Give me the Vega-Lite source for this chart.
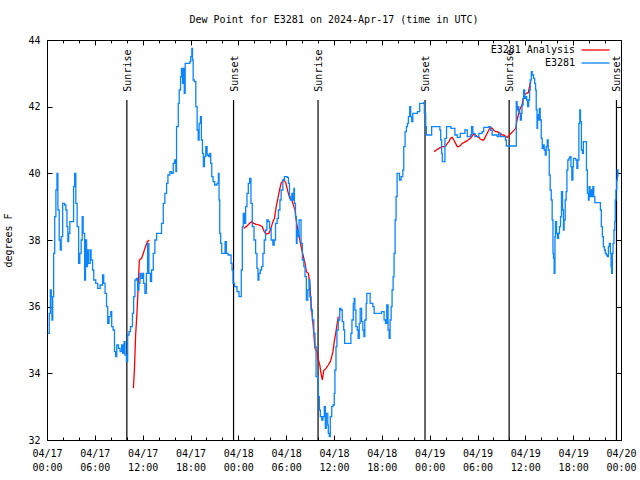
{
"$schema":"https://vega.github.io/schema/vega-lite/v6.json",
"width":574,"height":400,
"autosize":{"type":"none"},
"padding":{"left":47,"top":40,"right":19,"bottom":40},
"background":"white",
"title":{"text":"Dew Point for E3281 on 2024-Apr-17 (time in UTC)","font":"DejaVu Sans Mono","fontSize":10,"fontWeight":"normal","color":"black","anchor":"middle","frame":"group","baseline":"alphabetic","offset":2},
"config":{
 "view":{"stroke":"black","strokeWidth":1},
 "font":"DejaVu Sans Mono",
 "axis":{"grid":false,"domain":false,"tickColor":"black","tickWidth":1,"labelFont":"DejaVu Sans Mono","labelFontSize":10,"labelColor":"black","titleFont":"DejaVu Sans Mono","titleFontSize":10,"titleFontWeight":"normal","titleColor":"black"}
},
"datasets":{
"obs":[
{"t":"2024-04-17T00:05:00Z","v":35.2,"s":"E3281","g":"b"},
{"t":"2024-04-17T00:17:00Z","v":35.8,"s":"E3281","g":"b"},
{"t":"2024-04-17T00:25:00Z","v":36.5,"s":"E3281","g":"b"},
{"t":"2024-04-17T00:32:00Z","v":36.3,"s":"E3281","g":"b"},
{"t":"2024-04-17T00:37:00Z","v":35.6,"s":"E3281","g":"b"},
{"t":"2024-04-17T00:43:00Z","v":36.3,"s":"E3281","g":"b"},
{"t":"2024-04-17T00:50:00Z","v":37.6,"s":"E3281","g":"b"},
{"t":"2024-04-17T00:58:00Z","v":38.7,"s":"E3281","g":"b"},
{"t":"2024-04-17T01:07:00Z","v":39.5,"s":"E3281","g":"b"},
{"t":"2024-04-17T01:15:00Z","v":40.0,"s":"E3281","g":"b"},
{"t":"2024-04-17T01:22:00Z","v":38.9,"s":"E3281","g":"b"},
{"t":"2024-04-17T01:32:00Z","v":38.0,"s":"E3281","g":"b"},
{"t":"2024-04-17T01:40:00Z","v":37.7,"s":"E3281","g":"b"},
{"t":"2024-04-17T01:47:00Z","v":38.1,"s":"E3281","g":"b"},
{"t":"2024-04-17T01:58:00Z","v":39.1,"s":"E3281","g":"b"},
{"t":"2024-04-17T02:13:00Z","v":39.05,"s":"E3281","g":"b"},
{"t":"2024-04-17T02:22:00Z","v":38.9,"s":"E3281","g":"b"},
{"t":"2024-04-17T02:30:00Z","v":38.4,"s":"E3281","g":"b"},
{"t":"2024-04-17T02:37:00Z","v":37.95,"s":"E3281","g":"b"},
{"t":"2024-04-17T02:43:00Z","v":38.2,"s":"E3281","g":"b"},
{"t":"2024-04-17T02:52:00Z","v":38.55,"s":"E3281","g":"b"},
{"t":"2024-04-17T03:07:00Z","v":38.55,"s":"E3281","g":"b"},
{"t":"2024-04-17T03:20:00Z","v":39.6,"s":"E3281","g":"b"},
{"t":"2024-04-17T03:28:00Z","v":40.0,"s":"E3281","g":"b"},
{"t":"2024-04-17T03:37:00Z","v":39.1,"s":"E3281","g":"b"},
{"t":"2024-04-17T03:47:00Z","v":38.4,"s":"E3281","g":"b"},
{"t":"2024-04-17T03:58:00Z","v":37.3,"s":"E3281","g":"b"},
{"t":"2024-04-17T04:07:00Z","v":37.6,"s":"E3281","g":"b"},
{"t":"2024-04-17T04:17:00Z","v":38.0,"s":"E3281","g":"b"},
{"t":"2024-04-17T04:25:00Z","v":38.7,"s":"E3281","g":"b"},
{"t":"2024-04-17T04:32:00Z","v":38.2,"s":"E3281","g":"b"},
{"t":"2024-04-17T04:43:00Z","v":36.8,"s":"E3281","g":"b"},
{"t":"2024-04-17T04:50:00Z","v":38.0,"s":"E3281","g":"b"},
{"t":"2024-04-17T04:58:00Z","v":37.2,"s":"E3281","g":"b"},
{"t":"2024-04-17T05:05:00Z","v":37.7,"s":"E3281","g":"b"},
{"t":"2024-04-17T05:12:00Z","v":37.3,"s":"E3281","g":"b"},
{"t":"2024-04-17T05:25:00Z","v":37.7,"s":"E3281","g":"b"},
{"t":"2024-04-17T05:32:00Z","v":37.4,"s":"E3281","g":"b"},
{"t":"2024-04-17T05:43:00Z","v":37.1,"s":"E3281","g":"b"},
{"t":"2024-04-17T05:52:00Z","v":36.8,"s":"E3281","g":"b"},
{"t":"2024-04-17T06:07:00Z","v":36.7,"s":"E3281","g":"b"},
{"t":"2024-04-17T06:22:00Z","v":36.55,"s":"E3281","g":"b"},
{"t":"2024-04-17T06:40:00Z","v":36.65,"s":"E3281","g":"b"},
{"t":"2024-04-17T06:58:00Z","v":36.95,"s":"E3281","g":"b"},
{"t":"2024-04-17T07:07:00Z","v":36.7,"s":"E3281","g":"b"},
{"t":"2024-04-17T07:17:00Z","v":36.4,"s":"E3281","g":"b"},
{"t":"2024-04-17T07:28:00Z","v":36.0,"s":"E3281","g":"b"},
{"t":"2024-04-17T07:37:00Z","v":35.5,"s":"E3281","g":"b"},
{"t":"2024-04-17T07:47:00Z","v":35.7,"s":"E3281","g":"b"},
{"t":"2024-04-17T08:00:00Z","v":35.85,"s":"E3281","g":"b"},
{"t":"2024-04-17T08:07:00Z","v":35.4,"s":"E3281","g":"b"},
{"t":"2024-04-17T08:17:00Z","v":35.3,"s":"E3281","g":"b"},
{"t":"2024-04-17T08:28:00Z","v":34.65,"s":"E3281","g":"b"},
{"t":"2024-04-17T08:37:00Z","v":34.5,"s":"E3281","g":"b"},
{"t":"2024-04-17T08:45:00Z","v":34.85,"s":"E3281","g":"b"},
{"t":"2024-04-17T08:58:00Z","v":34.75,"s":"E3281","g":"b"},
{"t":"2024-04-17T09:10:00Z","v":34.65,"s":"E3281","g":"b"},
{"t":"2024-04-17T09:22:00Z","v":34.85,"s":"E3281","g":"b"},
{"t":"2024-04-17T09:30:00Z","v":34.6,"s":"E3281","g":"b"},
{"t":"2024-04-17T09:40:00Z","v":34.95,"s":"E3281","g":"b"},
{"t":"2024-04-17T09:47:00Z","v":34.55,"s":"E3281","g":"b"},
{"t":"2024-04-17T09:58:00Z","v":34.35,"s":"E3281","g":"b"},
{"t":"2024-04-17T10:07:00Z","v":35.15,"s":"E3281","g":"b"},
{"t":"2024-04-17T10:17:00Z","v":35.25,"s":"E3281","g":"b"},
{"t":"2024-04-17T10:28:00Z","v":35.4,"s":"E3281","g":"b"},
{"t":"2024-04-17T10:43:00Z","v":35.8,"s":"E3281","g":"b"},
{"t":"2024-04-17T10:52:00Z","v":36.3,"s":"E3281","g":"b"},
{"t":"2024-04-17T11:02:00Z","v":36.8,"s":"E3281","g":"b"},
{"t":"2024-04-17T11:13:00Z","v":36.85,"s":"E3281","g":"b"},
{"t":"2024-04-17T11:22:00Z","v":36.5,"s":"E3281","g":"b"},
{"t":"2024-04-17T11:32:00Z","v":36.7,"s":"E3281","g":"b"},
{"t":"2024-04-17T11:40:00Z","v":37.0,"s":"E3281","g":"b"},
{"t":"2024-04-17T11:47:00Z","v":36.85,"s":"E3281","g":"b"},
{"t":"2024-04-17T11:58:00Z","v":37.0,"s":"E3281","g":"b"},
{"t":"2024-04-17T12:07:00Z","v":36.7,"s":"E3281","g":"b"},
{"t":"2024-04-17T12:17:00Z","v":36.4,"s":"E3281","g":"b"},
{"t":"2024-04-17T12:28:00Z","v":37.0,"s":"E3281","g":"b"},
{"t":"2024-04-17T12:37:00Z","v":37.9,"s":"E3281","g":"b"},
{"t":"2024-04-17T12:47:00Z","v":37.0,"s":"E3281","g":"b"},
{"t":"2024-04-17T12:58:00Z","v":36.75,"s":"E3281","g":"b"},
{"t":"2024-04-17T13:07:00Z","v":37.1,"s":"E3281","g":"b"},
{"t":"2024-04-17T13:20:00Z","v":37.6,"s":"E3281","g":"b"},
{"t":"2024-04-17T13:32:00Z","v":38.0,"s":"E3281","g":"b"},
{"t":"2024-04-17T13:45:00Z","v":38.2,"s":"E3281","g":"b"},
{"t":"2024-04-17T14:10:00Z","v":38.2,"s":"E3281","g":"b"},
{"t":"2024-04-17T14:22:00Z","v":38.5,"s":"E3281","g":"b"},
{"t":"2024-04-17T14:35:00Z","v":39.1,"s":"E3281","g":"b"},
{"t":"2024-04-17T14:47:00Z","v":39.4,"s":"E3281","g":"b"},
{"t":"2024-04-17T15:00:00Z","v":39.7,"s":"E3281","g":"b"},
{"t":"2024-04-17T15:10:00Z","v":39.95,"s":"E3281","g":"b"},
{"t":"2024-04-17T15:25:00Z","v":40.05,"s":"E3281","g":"b"},
{"t":"2024-04-17T15:37:00Z","v":40.0,"s":"E3281","g":"b"},
{"t":"2024-04-17T15:50:00Z","v":40.3,"s":"E3281","g":"b"},
{"t":"2024-04-17T16:00:00Z","v":40.4,"s":"E3281","g":"b"},
{"t":"2024-04-17T16:10:00Z","v":40.05,"s":"E3281","g":"b"},
{"t":"2024-04-17T16:15:00Z","v":41.4,"s":"E3281","g":"b"},
{"t":"2024-04-17T16:28:00Z","v":42.1,"s":"E3281","g":"b"},
{"t":"2024-04-17T16:35:00Z","v":42.5,"s":"E3281","g":"b"},
{"t":"2024-04-17T16:45:00Z","v":42.9,"s":"E3281","g":"b"},
{"t":"2024-04-17T16:52:00Z","v":43.15,"s":"E3281","g":"b"},
{"t":"2024-04-17T17:00:00Z","v":42.7,"s":"E3281","g":"b"},
{"t":"2024-04-17T17:05:00Z","v":43.15,"s":"E3281","g":"b"},
{"t":"2024-04-17T17:13:00Z","v":42.4,"s":"E3281","g":"b"},
{"t":"2024-04-17T17:20:00Z","v":43.3,"s":"E3281","g":"b"},
{"t":"2024-04-17T17:55:00Z","v":43.35,"s":"E3281","g":"b"},
{"t":"2024-04-17T18:02:00Z","v":43.5,"s":"E3281","g":"b"},
{"t":"2024-04-17T18:10:00Z","v":43.75,"s":"E3281","g":"b"},
{"t":"2024-04-17T18:15:00Z","v":43.4,"s":"E3281","g":"b"},
{"t":"2024-04-17T18:20:00Z","v":42.8,"s":"E3281","g":"b"},
{"t":"2024-04-17T18:30:00Z","v":42.75,"s":"E3281","g":"b"},
{"t":"2024-04-17T18:40:00Z","v":42.0,"s":"E3281","g":"b"},
{"t":"2024-04-17T18:50:00Z","v":41.3,"s":"E3281","g":"b"},
{"t":"2024-04-17T18:58:00Z","v":41.0,"s":"E3281","g":"b"},
{"t":"2024-04-17T19:05:00Z","v":41.5,"s":"E3281","g":"b"},
{"t":"2024-04-17T19:15:00Z","v":41.7,"s":"E3281","g":"b"},
{"t":"2024-04-17T19:22:00Z","v":41.0,"s":"E3281","g":"b"},
{"t":"2024-04-17T19:30:00Z","v":40.6,"s":"E3281","g":"b"},
{"t":"2024-04-17T19:37:00Z","v":40.2,"s":"E3281","g":"b"},
{"t":"2024-04-17T19:45:00Z","v":40.5,"s":"E3281","g":"b"},
{"t":"2024-04-17T19:55:00Z","v":40.8,"s":"E3281","g":"b"},
{"t":"2024-04-17T20:05:00Z","v":40.55,"s":"E3281","g":"b"},
{"t":"2024-04-17T20:15:00Z","v":40.5,"s":"E3281","g":"b"},
{"t":"2024-04-17T20:25:00Z","v":40.6,"s":"E3281","g":"b"},
{"t":"2024-04-17T20:32:00Z","v":40.3,"s":"E3281","g":"b"},
{"t":"2024-04-17T20:40:00Z","v":39.9,"s":"E3281","g":"b"},
{"t":"2024-04-17T20:50:00Z","v":39.75,"s":"E3281","g":"b"},
{"t":"2024-04-17T21:02:00Z","v":39.65,"s":"E3281","g":"b"},
{"t":"2024-04-17T21:20:00Z","v":39.7,"s":"E3281","g":"b"},
{"t":"2024-04-17T21:30:00Z","v":40.0,"s":"E3281","g":"b"},
{"t":"2024-04-17T21:35:00Z","v":39.2,"s":"E3281","g":"b"},
{"t":"2024-04-17T21:40:00Z","v":38.2,"s":"E3281","g":"b"},
{"t":"2024-04-17T21:47:00Z","v":37.9,"s":"E3281","g":"b"},
{"t":"2024-04-17T21:55:00Z","v":37.6,"s":"E3281","g":"b"},
{"t":"2024-04-17T22:10:00Z","v":37.6,"s":"E3281","g":"b"},
{"t":"2024-04-17T22:20:00Z","v":37.95,"s":"E3281","g":"b"},
{"t":"2024-04-17T22:30:00Z","v":37.6,"s":"E3281","g":"b"},
{"t":"2024-04-17T22:43:00Z","v":37.55,"s":"E3281","g":"b"},
{"t":"2024-04-17T22:55:00Z","v":37.55,"s":"E3281","g":"b"},
{"t":"2024-04-17T23:05:00Z","v":37.3,"s":"E3281","g":"b"},
{"t":"2024-04-17T23:13:00Z","v":37.1,"s":"E3281","g":"b"},
{"t":"2024-04-17T23:20:00Z","v":36.7,"s":"E3281","g":"b"},
{"t":"2024-04-17T23:32:00Z","v":36.6,"s":"E3281","g":"b"},
{"t":"2024-04-17T23:50:00Z","v":36.45,"s":"E3281","g":"b"},
{"t":"2024-04-18T00:05:00Z","v":36.3,"s":"E3281","g":"b"},
{"t":"2024-04-18T00:15:00Z","v":36.3,"s":"E3281","g":"b"},
{"t":"2024-04-18T00:22:00Z","v":37.1,"s":"E3281","g":"b"},
{"t":"2024-04-18T00:30:00Z","v":38.4,"s":"E3281","g":"b"},
{"t":"2024-04-18T00:37:00Z","v":38.8,"s":"E3281","g":"b"},
{"t":"2024-04-18T00:47:00Z","v":38.5,"s":"E3281","g":"b"},
{"t":"2024-04-18T00:55:00Z","v":39.0,"s":"E3281","g":"b"},
{"t":"2024-04-18T01:05:00Z","v":39.4,"s":"E3281","g":"b"},
{"t":"2024-04-18T01:15:00Z","v":39.7,"s":"E3281","g":"b"},
{"t":"2024-04-18T01:25:00Z","v":39.85,"s":"E3281","g":"b"},
{"t":"2024-04-18T01:35:00Z","v":39.1,"s":"E3281","g":"b"},
{"t":"2024-04-18T01:45:00Z","v":38.4,"s":"E3281","g":"b"},
{"t":"2024-04-18T01:58:00Z","v":38.0,"s":"E3281","g":"b"},
{"t":"2024-04-18T02:10:00Z","v":37.6,"s":"E3281","g":"b"},
{"t":"2024-04-18T02:20:00Z","v":37.15,"s":"E3281","g":"b"},
{"t":"2024-04-18T02:28:00Z","v":36.8,"s":"E3281","g":"b"},
{"t":"2024-04-18T02:35:00Z","v":37.0,"s":"E3281","g":"b"},
{"t":"2024-04-18T02:45:00Z","v":37.1,"s":"E3281","g":"b"},
{"t":"2024-04-18T02:55:00Z","v":37.2,"s":"E3281","g":"b"},
{"t":"2024-04-18T03:05:00Z","v":37.6,"s":"E3281","g":"b"},
{"t":"2024-04-18T03:15:00Z","v":38.0,"s":"E3281","g":"b"},
{"t":"2024-04-18T03:25:00Z","v":38.3,"s":"E3281","g":"b"},
{"t":"2024-04-18T03:35:00Z","v":38.6,"s":"E3281","g":"b"},
{"t":"2024-04-18T03:45:00Z","v":38.55,"s":"E3281","g":"b"},
{"t":"2024-04-18T03:55:00Z","v":38.35,"s":"E3281","g":"b"},
{"t":"2024-04-18T04:07:00Z","v":38.0,"s":"E3281","g":"b"},
{"t":"2024-04-18T04:20:00Z","v":37.85,"s":"E3281","g":"b"},
{"t":"2024-04-18T04:30:00Z","v":38.0,"s":"E3281","g":"b"},
{"t":"2024-04-18T04:40:00Z","v":38.5,"s":"E3281","g":"b"},
{"t":"2024-04-18T04:52:00Z","v":38.65,"s":"E3281","g":"b"},
{"t":"2024-04-18T05:02:00Z","v":38.9,"s":"E3281","g":"b"},
{"t":"2024-04-18T05:13:00Z","v":39.2,"s":"E3281","g":"b"},
{"t":"2024-04-18T05:22:00Z","v":39.5,"s":"E3281","g":"b"},
{"t":"2024-04-18T05:35:00Z","v":39.8,"s":"E3281","g":"b"},
{"t":"2024-04-18T05:47:00Z","v":39.9,"s":"E3281","g":"b"},
{"t":"2024-04-18T06:07:00Z","v":39.88,"s":"E3281","g":"b"},
{"t":"2024-04-18T06:17:00Z","v":39.7,"s":"E3281","g":"b"},
{"t":"2024-04-18T06:25:00Z","v":39.3,"s":"E3281","g":"b"},
{"t":"2024-04-18T06:32:00Z","v":39.2,"s":"E3281","g":"b"},
{"t":"2024-04-18T06:43:00Z","v":39.4,"s":"E3281","g":"b"},
{"t":"2024-04-18T06:50:00Z","v":39.2,"s":"E3281","g":"b"},
{"t":"2024-04-18T06:58:00Z","v":39.55,"s":"E3281","g":"b"},
{"t":"2024-04-18T07:02:00Z","v":39.1,"s":"E3281","g":"b"},
{"t":"2024-04-18T07:10:00Z","v":38.7,"s":"E3281","g":"b"},
{"t":"2024-04-18T07:17:00Z","v":37.9,"s":"E3281","g":"b"},
{"t":"2024-04-18T07:22:00Z","v":38.3,"s":"E3281","g":"b"},
{"t":"2024-04-18T07:30:00Z","v":38.1,"s":"E3281","g":"b"},
{"t":"2024-04-18T07:37:00Z","v":38.6,"s":"E3281","g":"b"},
{"t":"2024-04-18T07:47:00Z","v":38.6,"s":"E3281","g":"b"},
{"t":"2024-04-18T07:52:00Z","v":37.9,"s":"E3281","g":"b"},
{"t":"2024-04-18T08:02:00Z","v":37.4,"s":"E3281","g":"b"},
{"t":"2024-04-18T08:13:00Z","v":37.2,"s":"E3281","g":"b"},
{"t":"2024-04-18T08:22:00Z","v":36.9,"s":"E3281","g":"b"},
{"t":"2024-04-18T08:32:00Z","v":36.2,"s":"E3281","g":"b"},
{"t":"2024-04-18T08:43:00Z","v":36.5,"s":"E3281","g":"b"},
{"t":"2024-04-18T08:52:00Z","v":36.8,"s":"E3281","g":"b"},
{"t":"2024-04-18T08:58:00Z","v":36.3,"s":"E3281","g":"b"},
{"t":"2024-04-18T09:07:00Z","v":35.9,"s":"E3281","g":"b"},
{"t":"2024-04-18T09:17:00Z","v":35.6,"s":"E3281","g":"b"},
{"t":"2024-04-18T09:28:00Z","v":35.2,"s":"E3281","g":"b"},
{"t":"2024-04-18T09:37:00Z","v":34.8,"s":"E3281","g":"b"},
{"t":"2024-04-18T09:45:00Z","v":33.9,"s":"E3281","g":"b"},
{"t":"2024-04-18T09:58:00Z","v":33.9,"s":"E3281","g":"b"},
{"t":"2024-04-18T10:02:00Z","v":33.3,"s":"E3281","g":"b"},
{"t":"2024-04-18T10:10:00Z","v":32.9,"s":"E3281","g":"b"},
{"t":"2024-04-18T10:17:00Z","v":32.7,"s":"E3281","g":"b"},
{"t":"2024-04-18T10:28:00Z","v":32.6,"s":"E3281","g":"b"},
{"t":"2024-04-18T10:37:00Z","v":32.7,"s":"E3281","g":"b"},
{"t":"2024-04-18T10:47:00Z","v":33.0,"s":"E3281","g":"b"},
{"t":"2024-04-18T10:55:00Z","v":32.35,"s":"E3281","g":"b"},
{"t":"2024-04-18T11:02:00Z","v":32.8,"s":"E3281","g":"b"},
{"t":"2024-04-18T11:13:00Z","v":32.45,"s":"E3281","g":"b"},
{"t":"2024-04-18T11:17:00Z","v":32.2,"s":"E3281","g":"b"},
{"t":"2024-04-18T11:25:00Z","v":32.1,"s":"E3281","g":"b"},
{"t":"2024-04-18T11:32:00Z","v":32.7,"s":"E3281","g":"b"},
{"t":"2024-04-18T11:43:00Z","v":33.0,"s":"E3281","g":"b"},
{"t":"2024-04-18T11:52:00Z","v":33.05,"s":"E3281","g":"b"},
{"t":"2024-04-18T12:02:00Z","v":33.4,"s":"E3281","g":"b"},
{"t":"2024-04-18T12:07:00Z","v":34.1,"s":"E3281","g":"b"},
{"t":"2024-04-18T12:15:00Z","v":34.8,"s":"E3281","g":"b"},
{"t":"2024-04-18T12:22:00Z","v":35.3,"s":"E3281","g":"b"},
{"t":"2024-04-18T12:32:00Z","v":35.6,"s":"E3281","g":"b"},
{"t":"2024-04-18T12:43:00Z","v":35.95,"s":"E3281","g":"b"},
{"t":"2024-04-18T12:52:00Z","v":35.9,"s":"E3281","g":"b"},
{"t":"2024-04-18T13:02:00Z","v":35.55,"s":"E3281","g":"b"},
{"t":"2024-04-18T13:13:00Z","v":35.3,"s":"E3281","g":"b"},
{"t":"2024-04-18T13:20:00Z","v":34.9,"s":"E3281","g":"b"},
{"t":"2024-04-18T14:02:00Z","v":34.9,"s":"E3281","g":"b"},
{"t":"2024-04-18T14:07:00Z","v":35.2,"s":"E3281","g":"b"},
{"t":"2024-04-18T14:15:00Z","v":35.6,"s":"E3281","g":"b"},
{"t":"2024-04-18T14:25:00Z","v":36.1,"s":"E3281","g":"b"},
{"t":"2024-04-18T14:32:00Z","v":36.25,"s":"E3281","g":"b"},
{"t":"2024-04-18T14:37:00Z","v":35.9,"s":"E3281","g":"b"},
{"t":"2024-04-18T14:45:00Z","v":35.4,"s":"E3281","g":"b"},
{"t":"2024-04-18T14:55:00Z","v":35.3,"s":"E3281","g":"b"},
{"t":"2024-04-18T15:02:00Z","v":35.05,"s":"E3281","g":"b"},
{"t":"2024-04-18T15:10:00Z","v":35.5,"s":"E3281","g":"b"},
{"t":"2024-04-18T15:17:00Z","v":35.95,"s":"E3281","g":"b"},
{"t":"2024-04-18T15:28:00Z","v":35.55,"s":"E3281","g":"b"},
{"t":"2024-04-18T15:37:00Z","v":35.3,"s":"E3281","g":"b"},
{"t":"2024-04-18T15:45:00Z","v":35.1,"s":"E3281","g":"b"},
{"t":"2024-04-18T15:52:00Z","v":35.6,"s":"E3281","g":"b"},
{"t":"2024-04-18T16:02:00Z","v":36.1,"s":"E3281","g":"b"},
{"t":"2024-04-18T16:07:00Z","v":36.4,"s":"E3281","g":"b"},
{"t":"2024-04-18T16:22:00Z","v":36.4,"s":"E3281","g":"b"},
{"t":"2024-04-18T16:32:00Z","v":36.1,"s":"E3281","g":"b"},
{"t":"2024-04-18T16:52:00Z","v":36.0,"s":"E3281","g":"b"},
{"t":"2024-04-18T17:02:00Z","v":35.8,"s":"E3281","g":"b"},
{"t":"2024-04-18T17:58:00Z","v":35.85,"s":"E3281","g":"b"},
{"t":"2024-04-18T18:17:00Z","v":35.6,"s":"E3281","g":"b"},
{"t":"2024-04-18T18:28:00Z","v":35.5,"s":"E3281","g":"b"},
{"t":"2024-04-18T18:37:00Z","v":36.05,"s":"E3281","g":"b"},
{"t":"2024-04-18T18:47:00Z","v":35.3,"s":"E3281","g":"b"},
{"t":"2024-04-18T18:55:00Z","v":35.05,"s":"E3281","g":"b"},
{"t":"2024-04-18T19:02:00Z","v":35.6,"s":"E3281","g":"b"},
{"t":"2024-04-18T19:10:00Z","v":36.0,"s":"E3281","g":"b"},
{"t":"2024-04-18T19:17:00Z","v":36.5,"s":"E3281","g":"b"},
{"t":"2024-04-18T19:25:00Z","v":36.9,"s":"E3281","g":"b"},
{"t":"2024-04-18T19:32:00Z","v":37.6,"s":"E3281","g":"b"},
{"t":"2024-04-18T19:40:00Z","v":38.6,"s":"E3281","g":"b"},
{"t":"2024-04-18T19:47:00Z","v":39.3,"s":"E3281","g":"b"},
{"t":"2024-04-18T19:55:00Z","v":40.0,"s":"E3281","g":"b"},
{"t":"2024-04-18T20:13:00Z","v":39.8,"s":"E3281","g":"b"},
{"t":"2024-04-18T20:25:00Z","v":39.9,"s":"E3281","g":"b"},
{"t":"2024-04-18T20:38:00Z","v":40.1,"s":"E3281","g":"b"},
{"t":"2024-04-18T20:45:00Z","v":40.8,"s":"E3281","g":"b"},
{"t":"2024-04-18T20:55:00Z","v":41.25,"s":"E3281","g":"b"},
{"t":"2024-04-18T21:05:00Z","v":41.4,"s":"E3281","g":"b"},
{"t":"2024-04-18T21:13:00Z","v":41.5,"s":"E3281","g":"b"},
{"t":"2024-04-18T21:20:00Z","v":41.7,"s":"E3281","g":"b"},
{"t":"2024-04-18T21:30:00Z","v":42.0,"s":"E3281","g":"b"},
{"t":"2024-04-18T21:37:00Z","v":41.7,"s":"E3281","g":"b"},
{"t":"2024-04-18T21:45:00Z","v":41.55,"s":"E3281","g":"b"},
{"t":"2024-04-18T21:53:00Z","v":41.8,"s":"E3281","g":"b"},
{"t":"2024-04-18T22:10:00Z","v":41.8,"s":"E3281","g":"b"},
{"t":"2024-04-18T22:28:00Z","v":41.85,"s":"E3281","g":"b"},
{"t":"2024-04-18T22:45:00Z","v":42.1,"s":"E3281","g":"b"},
{"t":"2024-04-18T23:15:00Z","v":42.12,"s":"E3281","g":"b"},
{"t":"2024-04-18T23:20:00Z","v":41.8,"s":"E3281","g":"b"},
{"t":"2024-04-18T23:30:00Z","v":41.4,"s":"E3281","g":"b"},
{"t":"2024-04-18T23:35:00Z","v":41.15,"s":"E3281","g":"b"},
{"t":"2024-04-19T00:07:00Z","v":41.15,"s":"E3281","g":"b"},
{"t":"2024-04-19T00:15:00Z","v":41.4,"s":"E3281","g":"b"},
{"t":"2024-04-19T01:17:00Z","v":41.3,"s":"E3281","g":"b"},
{"t":"2024-04-19T01:23:00Z","v":41.0,"s":"E3281","g":"b"},
{"t":"2024-04-19T01:30:00Z","v":40.6,"s":"E3281","g":"b"},
{"t":"2024-04-19T01:35:00Z","v":40.35,"s":"E3281","g":"b"},
{"t":"2024-04-19T01:47:00Z","v":40.35,"s":"E3281","g":"b"},
{"t":"2024-04-19T01:55:00Z","v":41.05,"s":"E3281","g":"b"},
{"t":"2024-04-19T02:07:00Z","v":41.4,"s":"E3281","g":"b"},
{"t":"2024-04-19T02:40:00Z","v":41.35,"s":"E3281","g":"b"},
{"t":"2024-04-19T03:10:00Z","v":41.15,"s":"E3281","g":"b"},
{"t":"2024-04-19T03:28:00Z","v":41.08,"s":"E3281","g":"b"},
{"t":"2024-04-19T03:45:00Z","v":41.08,"s":"E3281","g":"b"},
{"t":"2024-04-19T03:50:00Z","v":41.2,"s":"E3281","g":"b"},
{"t":"2024-04-19T04:25:00Z","v":41.3,"s":"E3281","g":"b"},
{"t":"2024-04-19T04:35:00Z","v":41.3,"s":"E3281","g":"b"},
{"t":"2024-04-19T04:43:00Z","v":41.1,"s":"E3281","g":"b"},
{"t":"2024-04-19T05:07:00Z","v":41.15,"s":"E3281","g":"b"},
{"t":"2024-04-19T05:15:00Z","v":41.4,"s":"E3281","g":"b"},
{"t":"2024-04-19T05:25:00Z","v":41.2,"s":"E3281","g":"b"},
{"t":"2024-04-19T05:40:00Z","v":41.1,"s":"E3281","g":"b"},
{"t":"2024-04-19T06:05:00Z","v":41.1,"s":"E3281","g":"b"},
{"t":"2024-04-19T06:10:00Z","v":41.2,"s":"E3281","g":"b"},
{"t":"2024-04-19T06:35:00Z","v":41.25,"s":"E3281","g":"b"},
{"t":"2024-04-19T06:47:00Z","v":41.38,"s":"E3281","g":"b"},
{"t":"2024-04-19T07:25:00Z","v":41.4,"s":"E3281","g":"b"},
{"t":"2024-04-19T07:37:00Z","v":41.3,"s":"E3281","g":"b"},
{"t":"2024-04-19T07:50:00Z","v":41.15,"s":"E3281","g":"b"},
{"t":"2024-04-19T08:28:00Z","v":41.1,"s":"E3281","g":"b"},
{"t":"2024-04-19T08:40:00Z","v":41.2,"s":"E3281","g":"b"},
{"t":"2024-04-19T08:52:00Z","v":41.1,"s":"E3281","g":"b"},
{"t":"2024-04-19T09:17:00Z","v":41.1,"s":"E3281","g":"b"},
{"t":"2024-04-19T09:30:00Z","v":41.0,"s":"E3281","g":"b"},
{"t":"2024-04-19T09:37:00Z","v":40.82,"s":"E3281","g":"b"},
{"t":"2024-04-19T10:47:00Z","v":40.82,"s":"E3281","g":"b"},
{"t":"2024-04-19T10:52:00Z","v":42.15,"s":"E3281","g":"b"},
{"t":"2024-04-19T10:58:00Z","v":41.9,"s":"E3281","g":"b"},
{"t":"2024-04-19T11:05:00Z","v":42.0,"s":"E3281","g":"b"},
{"t":"2024-04-19T11:10:00Z","v":41.85,"s":"E3281","g":"b"},
{"t":"2024-04-19T11:17:00Z","v":41.8,"s":"E3281","g":"b"},
{"t":"2024-04-19T11:22:00Z","v":41.6,"s":"E3281","g":"b"},
{"t":"2024-04-19T11:30:00Z","v":41.8,"s":"E3281","g":"b"},
{"t":"2024-04-19T11:35:00Z","v":42.05,"s":"E3281","g":"b"},
{"t":"2024-04-19T11:43:00Z","v":42.25,"s":"E3281","g":"b"},
{"t":"2024-04-19T11:47:00Z","v":42.5,"s":"E3281","g":"b"},
{"t":"2024-04-19T11:55:00Z","v":42.25,"s":"E3281","g":"b"},
{"t":"2024-04-19T12:02:00Z","v":42.3,"s":"E3281","g":"b"},
{"t":"2024-04-19T12:10:00Z","v":42.2,"s":"E3281","g":"b"},
{"t":"2024-04-19T12:17:00Z","v":42.0,"s":"E3281","g":"b"},
{"t":"2024-04-19T12:25:00Z","v":42.2,"s":"E3281","g":"b"},
{"t":"2024-04-19T12:32:00Z","v":42.5,"s":"E3281","g":"b"},
{"t":"2024-04-19T12:37:00Z","v":42.8,"s":"E3281","g":"b"},
{"t":"2024-04-19T12:45:00Z","v":43.05,"s":"E3281","g":"b"},
{"t":"2024-04-19T12:52:00Z","v":42.95,"s":"E3281","g":"b"},
{"t":"2024-04-19T13:02:00Z","v":42.85,"s":"E3281","g":"b"},
{"t":"2024-04-19T13:10:00Z","v":42.7,"s":"E3281","g":"b"},
{"t":"2024-04-19T13:17:00Z","v":42.5,"s":"E3281","g":"b"},
{"t":"2024-04-19T13:22:00Z","v":41.9,"s":"E3281","g":"b"},
{"t":"2024-04-19T13:28:00Z","v":41.35,"s":"E3281","g":"b"},
{"t":"2024-04-19T13:32:00Z","v":41.75,"s":"E3281","g":"b"},
{"t":"2024-04-19T13:37:00Z","v":41.6,"s":"E3281","g":"b"},
{"t":"2024-04-19T13:45:00Z","v":41.95,"s":"E3281","g":"b"},
{"t":"2024-04-19T13:52:00Z","v":41.6,"s":"E3281","g":"b"},
{"t":"2024-04-19T14:00:00Z","v":41.05,"s":"E3281","g":"b"},
{"t":"2024-04-19T14:07:00Z","v":40.75,"s":"E3281","g":"b"},
{"t":"2024-04-19T14:15:00Z","v":40.85,"s":"E3281","g":"b"},
{"t":"2024-04-19T14:22:00Z","v":40.7,"s":"E3281","g":"b"},
{"t":"2024-04-19T14:30:00Z","v":40.55,"s":"E3281","g":"b"},
{"t":"2024-04-19T14:37:00Z","v":40.8,"s":"E3281","g":"b"},
{"t":"2024-04-19T14:45:00Z","v":41.0,"s":"E3281","g":"b"},
{"t":"2024-04-19T14:52:00Z","v":40.7,"s":"E3281","g":"b"},
{"t":"2024-04-19T15:00:00Z","v":39.95,"s":"E3281","g":"b"},
{"t":"2024-04-19T15:07:00Z","v":39.5,"s":"E3281","g":"b"},
{"t":"2024-04-19T15:15:00Z","v":39.2,"s":"E3281","g":"b"},
{"t":"2024-04-19T15:22:00Z","v":38.6,"s":"E3281","g":"b"},
{"t":"2024-04-19T15:28:00Z","v":37.6,"s":"E3281","g":"b"},
{"t":"2024-04-19T15:32:00Z","v":37.45,"s":"E3281","g":"b"},
{"t":"2024-04-19T15:37:00Z","v":37.0,"s":"E3281","g":"b"},
{"t":"2024-04-19T15:43:00Z","v":38.1,"s":"E3281","g":"b"},
{"t":"2024-04-19T15:47:00Z","v":38.55,"s":"E3281","g":"b"},
{"t":"2024-04-19T15:55:00Z","v":38.2,"s":"E3281","g":"b"},
{"t":"2024-04-19T16:02:00Z","v":38.05,"s":"E3281","g":"b"},
{"t":"2024-04-19T16:10:00Z","v":38.2,"s":"E3281","g":"b"},
{"t":"2024-04-19T16:17:00Z","v":38.4,"s":"E3281","g":"b"},
{"t":"2024-04-19T16:25:00Z","v":38.7,"s":"E3281","g":"b"},
{"t":"2024-04-19T16:32:00Z","v":39.45,"s":"E3281","g":"b"},
{"t":"2024-04-19T16:40:00Z","v":38.9,"s":"E3281","g":"b"},
{"t":"2024-04-19T16:47:00Z","v":38.3,"s":"E3281","g":"b"},
{"t":"2024-04-19T16:52:00Z","v":38.6,"s":"E3281","g":"b"},
{"t":"2024-04-19T17:00:00Z","v":39.2,"s":"E3281","g":"b"},
{"t":"2024-04-19T17:07:00Z","v":39.45,"s":"E3281","g":"b"},
{"t":"2024-04-19T17:13:00Z","v":40.1,"s":"E3281","g":"b"},
{"t":"2024-04-19T17:20:00Z","v":40.4,"s":"E3281","g":"b"},
{"t":"2024-04-19T17:28:00Z","v":40.45,"s":"E3281","g":"b"},
{"t":"2024-04-19T17:35:00Z","v":40.5,"s":"E3281","g":"b"},
{"t":"2024-04-19T17:43:00Z","v":40.2,"s":"E3281","g":"b"},
{"t":"2024-04-19T17:50:00Z","v":39.8,"s":"E3281","g":"b"},
{"t":"2024-04-19T17:58:00Z","v":40.2,"s":"E3281","g":"b"},
{"t":"2024-04-19T18:02:00Z","v":40.45,"s":"E3281","g":"b"},
{"t":"2024-04-19T18:13:00Z","v":40.45,"s":"E3281","g":"b"},
{"t":"2024-04-19T18:20:00Z","v":40.4,"s":"E3281","g":"b"},
{"t":"2024-04-19T18:28:00Z","v":40.15,"s":"E3281","g":"b"},
{"t":"2024-04-19T18:35:00Z","v":40.4,"s":"E3281","g":"b"},
{"t":"2024-04-19T18:43:00Z","v":41.5,"s":"E3281","g":"b"},
{"t":"2024-04-19T18:50:00Z","v":41.9,"s":"E3281","g":"b"},
{"t":"2024-04-19T18:55:00Z","v":41.55,"s":"E3281","g":"b"},
{"t":"2024-04-19T19:02:00Z","v":40.7,"s":"E3281","g":"b"},
{"t":"2024-04-19T19:10:00Z","v":40.6,"s":"E3281","g":"b"},
{"t":"2024-04-19T19:17:00Z","v":40.95,"s":"E3281","g":"b"},
{"t":"2024-04-19T19:32:00Z","v":40.95,"s":"E3281","g":"b"},
{"t":"2024-04-19T19:40:00Z","v":40.1,"s":"E3281","g":"b"},
{"t":"2024-04-19T19:47:00Z","v":39.4,"s":"E3281","g":"b"},
{"t":"2024-04-19T19:55:00Z","v":39.2,"s":"E3281","g":"b"},
{"t":"2024-04-19T20:00:00Z","v":39.6,"s":"E3281","g":"b"},
{"t":"2024-04-19T20:07:00Z","v":39.3,"s":"E3281","g":"b"},
{"t":"2024-04-19T20:15:00Z","v":39.5,"s":"E3281","g":"b"},
{"t":"2024-04-19T20:22:00Z","v":39.3,"s":"E3281","g":"b"},
{"t":"2024-04-19T20:28:00Z","v":39.6,"s":"E3281","g":"b"},
{"t":"2024-04-19T20:35:00Z","v":39.3,"s":"E3281","g":"b"},
{"t":"2024-04-19T20:43:00Z","v":39.12,"s":"E3281","g":"b"},
{"t":"2024-04-19T21:17:00Z","v":39.12,"s":"E3281","g":"b"},
{"t":"2024-04-19T21:25:00Z","v":38.9,"s":"E3281","g":"b"},
{"t":"2024-04-19T21:32:00Z","v":38.4,"s":"E3281","g":"b"},
{"t":"2024-04-19T21:40:00Z","v":38.1,"s":"E3281","g":"b"},
{"t":"2024-04-19T21:47:00Z","v":37.8,"s":"E3281","g":"b"},
{"t":"2024-04-19T21:55:00Z","v":37.7,"s":"E3281","g":"b"},
{"t":"2024-04-19T22:02:00Z","v":37.6,"s":"E3281","g":"b"},
{"t":"2024-04-19T22:10:00Z","v":37.55,"s":"E3281","g":"b"},
{"t":"2024-04-19T22:17:00Z","v":37.5,"s":"E3281","g":"b"},
{"t":"2024-04-19T22:25:00Z","v":37.8,"s":"E3281","g":"b"},
{"t":"2024-04-19T22:32:00Z","v":37.9,"s":"E3281","g":"b"},
{"t":"2024-04-19T22:40:00Z","v":37.6,"s":"E3281","g":"b"},
{"t":"2024-04-19T22:45:00Z","v":37.2,"s":"E3281","g":"b"},
{"t":"2024-04-19T22:50:00Z","v":37.0,"s":"E3281","g":"b"},
{"t":"2024-04-19T22:55:00Z","v":37.6,"s":"E3281","g":"b"},
{"t":"2024-04-19T23:00:00Z","v":37.9,"s":"E3281","g":"b"},
{"t":"2024-04-19T23:07:00Z","v":38.3,"s":"E3281","g":"b"},
{"t":"2024-04-19T23:13:00Z","v":38.55,"s":"E3281","g":"b"},
{"t":"2024-04-19T23:17:00Z","v":39.2,"s":"E3281","g":"b"},
{"t":"2024-04-19T23:22:00Z","v":39.5,"s":"E3281","g":"b"},
{"t":"2024-04-19T23:28:00Z","v":39.8,"s":"E3281","g":"b"},
{"t":"2024-04-19T23:32:00Z","v":40.1,"s":"E3281","g":"b"},
{"t":"2024-04-19T23:37:00Z","v":39.9,"s":"E3281","g":"b"},
{"t":"2024-04-17T10:50:00Z","v":33.55,"s":"E3281 Analysis","g":"r1"},
{"t":"2024-04-17T10:58:00Z","v":34.1,"s":"E3281 Analysis","g":"r1"},
{"t":"2024-04-17T11:07:00Z","v":35.15,"s":"E3281 Analysis","g":"r1"},
{"t":"2024-04-17T11:17:00Z","v":35.8,"s":"E3281 Analysis","g":"r1"},
{"t":"2024-04-17T11:25:00Z","v":36.5,"s":"E3281 Analysis","g":"r1"},
{"t":"2024-04-17T11:35:00Z","v":37.4,"s":"E3281 Analysis","g":"r1"},
{"t":"2024-04-17T11:52:00Z","v":37.45,"s":"E3281 Analysis","g":"r1"},
{"t":"2024-04-17T12:05:00Z","v":37.6,"s":"E3281 Analysis","g":"r1"},
{"t":"2024-04-17T12:17:00Z","v":37.75,"s":"E3281 Analysis","g":"r1"},
{"t":"2024-04-17T12:35:00Z","v":37.95,"s":"E3281 Analysis","g":"r1"},
{"t":"2024-04-17T12:50:00Z","v":38.0,"s":"E3281 Analysis","g":"r1"},
{"t":"2024-04-18T00:40:00Z","v":38.35,"s":"E3281 Analysis","g":"r2"},
{"t":"2024-04-18T01:00:00Z","v":38.4,"s":"E3281 Analysis","g":"r2"},
{"t":"2024-04-18T01:25:00Z","v":38.5,"s":"E3281 Analysis","g":"r2"},
{"t":"2024-04-18T01:40:00Z","v":38.55,"s":"E3281 Analysis","g":"r2"},
{"t":"2024-04-18T01:55:00Z","v":38.5,"s":"E3281 Analysis","g":"r2"},
{"t":"2024-04-18T02:15:00Z","v":38.47,"s":"E3281 Analysis","g":"r2"},
{"t":"2024-04-18T02:40:00Z","v":38.45,"s":"E3281 Analysis","g":"r2"},
{"t":"2024-04-18T03:00:00Z","v":38.4,"s":"E3281 Analysis","g":"r2"},
{"t":"2024-04-18T03:15:00Z","v":38.25,"s":"E3281 Analysis","g":"r2"},
{"t":"2024-04-18T03:30:00Z","v":38.18,"s":"E3281 Analysis","g":"r2"},
{"t":"2024-04-18T03:50:00Z","v":38.2,"s":"E3281 Analysis","g":"r2"},
{"t":"2024-04-18T04:05:00Z","v":38.35,"s":"E3281 Analysis","g":"r2"},
{"t":"2024-04-18T04:20:00Z","v":38.55,"s":"E3281 Analysis","g":"r2"},
{"t":"2024-04-18T04:32:00Z","v":38.65,"s":"E3281 Analysis","g":"r2"},
{"t":"2024-04-18T04:45:00Z","v":39.0,"s":"E3281 Analysis","g":"r2"},
{"t":"2024-04-18T04:58:00Z","v":39.25,"s":"E3281 Analysis","g":"r2"},
{"t":"2024-04-18T05:10:00Z","v":39.5,"s":"E3281 Analysis","g":"r2"},
{"t":"2024-04-18T05:22:00Z","v":39.7,"s":"E3281 Analysis","g":"r2"},
{"t":"2024-04-18T05:43:00Z","v":39.82,"s":"E3281 Analysis","g":"r2"},
{"t":"2024-04-18T05:58:00Z","v":39.7,"s":"E3281 Analysis","g":"r2"},
{"t":"2024-04-18T06:13:00Z","v":39.45,"s":"E3281 Analysis","g":"r2"},
{"t":"2024-04-18T06:28:00Z","v":39.25,"s":"E3281 Analysis","g":"r2"},
{"t":"2024-04-18T06:43:00Z","v":39.2,"s":"E3281 Analysis","g":"r2"},
{"t":"2024-04-18T06:58:00Z","v":39.0,"s":"E3281 Analysis","g":"r2"},
{"t":"2024-04-18T07:07:00Z","v":38.9,"s":"E3281 Analysis","g":"r2"},
{"t":"2024-04-18T07:15:00Z","v":38.6,"s":"E3281 Analysis","g":"r2"},
{"t":"2024-04-18T07:28:00Z","v":38.3,"s":"E3281 Analysis","g":"r2"},
{"t":"2024-04-18T07:43:00Z","v":38.0,"s":"E3281 Analysis","g":"r2"},
{"t":"2024-04-18T07:58:00Z","v":37.7,"s":"E3281 Analysis","g":"r2"},
{"t":"2024-04-18T08:13:00Z","v":37.45,"s":"E3281 Analysis","g":"r2"},
{"t":"2024-04-18T08:22:00Z","v":37.3,"s":"E3281 Analysis","g":"r2"},
{"t":"2024-04-18T08:32:00Z","v":37.05,"s":"E3281 Analysis","g":"r2"},
{"t":"2024-04-18T08:47:00Z","v":37.0,"s":"E3281 Analysis","g":"r2"},
{"t":"2024-04-18T08:58:00Z","v":36.7,"s":"E3281 Analysis","g":"r2"},
{"t":"2024-04-18T09:07:00Z","v":36.1,"s":"E3281 Analysis","g":"r2"},
{"t":"2024-04-18T09:17:00Z","v":35.7,"s":"E3281 Analysis","g":"r2"},
{"t":"2024-04-18T09:28:00Z","v":35.2,"s":"E3281 Analysis","g":"r2"},
{"t":"2024-04-18T09:37:00Z","v":34.75,"s":"E3281 Analysis","g":"r2"},
{"t":"2024-04-18T09:52:00Z","v":34.65,"s":"E3281 Analysis","g":"r2"},
{"t":"2024-04-18T10:02:00Z","v":34.4,"s":"E3281 Analysis","g":"r2"},
{"t":"2024-04-18T10:13:00Z","v":34.25,"s":"E3281 Analysis","g":"r2"},
{"t":"2024-04-18T10:22:00Z","v":34.0,"s":"E3281 Analysis","g":"r2"},
{"t":"2024-04-18T10:32:00Z","v":33.8,"s":"E3281 Analysis","g":"r2"},
{"t":"2024-04-18T10:43:00Z","v":34.08,"s":"E3281 Analysis","g":"r2"},
{"t":"2024-04-18T11:00:00Z","v":34.15,"s":"E3281 Analysis","g":"r2"},
{"t":"2024-04-18T11:17:00Z","v":34.25,"s":"E3281 Analysis","g":"r2"},
{"t":"2024-04-18T11:32:00Z","v":34.35,"s":"E3281 Analysis","g":"r2"},
{"t":"2024-04-18T11:43:00Z","v":34.5,"s":"E3281 Analysis","g":"r2"},
{"t":"2024-04-18T11:52:00Z","v":34.65,"s":"E3281 Analysis","g":"r2"},
{"t":"2024-04-18T12:02:00Z","v":34.95,"s":"E3281 Analysis","g":"r2"},
{"t":"2024-04-18T12:13:00Z","v":35.2,"s":"E3281 Analysis","g":"r2"},
{"t":"2024-04-18T12:22:00Z","v":35.45,"s":"E3281 Analysis","g":"r2"},
{"t":"2024-04-18T12:32:00Z","v":35.7,"s":"E3281 Analysis","g":"r2"},
{"t":"2024-04-19T00:33:00Z","v":40.65,"s":"E3281 Analysis","g":"r3"},
{"t":"2024-04-19T00:45:00Z","v":40.68,"s":"E3281 Analysis","g":"r3"},
{"t":"2024-04-19T00:58:00Z","v":40.72,"s":"E3281 Analysis","g":"r3"},
{"t":"2024-04-19T01:10:00Z","v":40.75,"s":"E3281 Analysis","g":"r3"},
{"t":"2024-04-19T01:23:00Z","v":40.78,"s":"E3281 Analysis","g":"r3"},
{"t":"2024-04-19T01:35:00Z","v":40.8,"s":"E3281 Analysis","g":"r3"},
{"t":"2024-04-19T01:47:00Z","v":40.8,"s":"E3281 Analysis","g":"r3"},
{"t":"2024-04-19T02:00:00Z","v":40.82,"s":"E3281 Analysis","g":"r3"},
{"t":"2024-04-19T02:13:00Z","v":40.9,"s":"E3281 Analysis","g":"r3"},
{"t":"2024-04-19T02:25:00Z","v":40.95,"s":"E3281 Analysis","g":"r3"},
{"t":"2024-04-19T02:37:00Z","v":41.05,"s":"E3281 Analysis","g":"r3"},
{"t":"2024-04-19T02:50:00Z","v":41.08,"s":"E3281 Analysis","g":"r3"},
{"t":"2024-04-19T03:02:00Z","v":41.0,"s":"E3281 Analysis","g":"r3"},
{"t":"2024-04-19T03:15:00Z","v":40.9,"s":"E3281 Analysis","g":"r3"},
{"t":"2024-04-19T03:28:00Z","v":40.8,"s":"E3281 Analysis","g":"r3"},
{"t":"2024-04-19T03:40:00Z","v":40.8,"s":"E3281 Analysis","g":"r3"},
{"t":"2024-04-19T03:53:00Z","v":40.84,"s":"E3281 Analysis","g":"r3"},
{"t":"2024-04-19T04:05:00Z","v":40.9,"s":"E3281 Analysis","g":"r3"},
{"t":"2024-04-19T04:17:00Z","v":40.92,"s":"E3281 Analysis","g":"r3"},
{"t":"2024-04-19T04:30:00Z","v":40.95,"s":"E3281 Analysis","g":"r3"},
{"t":"2024-04-19T04:43:00Z","v":40.98,"s":"E3281 Analysis","g":"r3"},
{"t":"2024-04-19T04:55:00Z","v":41.02,"s":"E3281 Analysis","g":"r3"},
{"t":"2024-04-19T05:07:00Z","v":41.05,"s":"E3281 Analysis","g":"r3"},
{"t":"2024-04-19T05:20:00Z","v":41.12,"s":"E3281 Analysis","g":"r3"},
{"t":"2024-04-19T05:32:00Z","v":41.18,"s":"E3281 Analysis","g":"r3"},
{"t":"2024-04-19T05:45:00Z","v":41.15,"s":"E3281 Analysis","g":"r3"},
{"t":"2024-04-19T05:58:00Z","v":41.1,"s":"E3281 Analysis","g":"r3"},
{"t":"2024-04-19T06:10:00Z","v":41.08,"s":"E3281 Analysis","g":"r3"},
{"t":"2024-04-19T06:23:00Z","v":41.02,"s":"E3281 Analysis","g":"r3"},
{"t":"2024-04-19T06:35:00Z","v":41.0,"s":"E3281 Analysis","g":"r3"},
{"t":"2024-04-19T06:47:00Z","v":41.0,"s":"E3281 Analysis","g":"r3"},
{"t":"2024-04-19T07:00:00Z","v":41.1,"s":"E3281 Analysis","g":"r3"},
{"t":"2024-04-19T07:13:00Z","v":41.2,"s":"E3281 Analysis","g":"r3"},
{"t":"2024-04-19T07:25:00Z","v":41.3,"s":"E3281 Analysis","g":"r3"},
{"t":"2024-04-19T07:37:00Z","v":41.38,"s":"E3281 Analysis","g":"r3"},
{"t":"2024-04-19T07:50:00Z","v":41.35,"s":"E3281 Analysis","g":"r3"},
{"t":"2024-04-19T08:02:00Z","v":41.3,"s":"E3281 Analysis","g":"r3"},
{"t":"2024-04-19T08:15:00Z","v":41.25,"s":"E3281 Analysis","g":"r3"},
{"t":"2024-04-19T08:28:00Z","v":41.25,"s":"E3281 Analysis","g":"r3"},
{"t":"2024-04-19T08:40:00Z","v":41.22,"s":"E3281 Analysis","g":"r3"},
{"t":"2024-04-19T08:52:00Z","v":41.2,"s":"E3281 Analysis","g":"r3"},
{"t":"2024-04-19T09:05:00Z","v":41.15,"s":"E3281 Analysis","g":"r3"},
{"t":"2024-04-19T09:17:00Z","v":41.15,"s":"E3281 Analysis","g":"r3"},
{"t":"2024-04-19T09:43:00Z","v":41.08,"s":"E3281 Analysis","g":"r3"},
{"t":"2024-04-19T10:07:00Z","v":41.18,"s":"E3281 Analysis","g":"r3"},
{"t":"2024-04-19T10:32:00Z","v":41.28,"s":"E3281 Analysis","g":"r3"},
{"t":"2024-04-19T10:47:00Z","v":41.35,"s":"E3281 Analysis","g":"r3"},
{"t":"2024-04-19T10:58:00Z","v":41.6,"s":"E3281 Analysis","g":"r3"},
{"t":"2024-04-19T11:10:00Z","v":41.8,"s":"E3281 Analysis","g":"r3"},
{"t":"2024-04-19T11:22:00Z","v":41.95,"s":"E3281 Analysis","g":"r3"},
{"t":"2024-04-19T11:35:00Z","v":42.05,"s":"E3281 Analysis","g":"r3"},
{"t":"2024-04-19T11:43:00Z","v":42.22,"s":"E3281 Analysis","g":"r3"},
{"t":"2024-04-19T11:52:00Z","v":42.35,"s":"E3281 Analysis","g":"r3"},
{"t":"2024-04-19T12:07:00Z","v":42.4,"s":"E3281 Analysis","g":"r3"},
{"t":"2024-04-19T12:22:00Z","v":42.42,"s":"E3281 Analysis","g":"r3"},
{"t":"2024-04-19T12:37:00Z","v":42.7,"s":"E3281 Analysis","g":"r3"},
{"t":"2024-04-19T12:43:00Z","v":42.75,"s":"E3281 Analysis","g":"r3"}
],
"sun":[
{"t":"2024-04-17T10:01:00Z","label":"Sunrise"},
{"t":"2024-04-17T23:24:00Z","label":"Sunset"},
{"t":"2024-04-18T10:00:00Z","label":"Sunrise"},
{"t":"2024-04-18T23:25:00Z","label":"Sunset"},
{"t":"2024-04-19T09:58:00Z","label":"Sunrise"},
{"t":"2024-04-19T23:26:00Z","label":"Sunset"}
]
},
"layer":[
{
 "data":{"name":"sun"},
 "mark":{"type":"rule","color":"black","strokeWidth":1.2},
 "encoding":{
  "x":{"field":"t","type":"temporal","scale":{"type":"utc","domain":[1713312000000,1713571200000]},"axis":{"orient":"bottom","values":[1713312000000,1713319200000,1713326400000,1713333600000,1713340800000,1713348000000,1713355200000,1713362400000,1713369600000,1713376800000,1713384000000,1713391200000,1713398400000,1713405600000,1713412800000,1713420000000,1713427200000,1713434400000,1713441600000,1713448800000,1713456000000,1713463200000,1713470400000,1713477600000,1713484800000,1713492000000,1713499200000,1713506400000,1713513600000,1713520800000,1713528000000,1713535200000,1713542400000,1713549600000,1713556800000,1713564000000,1713571200000],"tickSize":-3,"labels":false,"title":null}},
  "y":{"datum":42.2,"type":"quantitative","scale":{"domain":[32,44],"nice":false,"zero":false},"axis":null},
  "y2":{"datum":32}
 }
},
{
 "data":{"name":"sun"},
 "mark":{"type":"text","angle":270,"align":"left","baseline":"middle","font":"DejaVu Sans Mono","fontSize":10,"color":"black","dy":1},
 "encoding":{
  "x":{"field":"t","type":"temporal","scale":{"type":"utc","domain":[1713312000000,1713571200000]},"axis":{"orient":"top","values":[1713312000000,1713319200000,1713326400000,1713333600000,1713340800000,1713348000000,1713355200000,1713362400000,1713369600000,1713376800000,1713384000000,1713391200000,1713398400000,1713405600000,1713412800000,1713420000000,1713427200000,1713434400000,1713441600000,1713448800000,1713456000000,1713463200000,1713470400000,1713477600000,1713484800000,1713492000000,1713499200000,1713506400000,1713513600000,1713520800000,1713528000000,1713535200000,1713542400000,1713549600000,1713556800000,1713564000000,1713571200000],"tickSize":-3,"labels":false,"title":null}},
  "y":{"datum":42.45,"type":"quantitative","scale":{"domain":[32,44],"nice":false,"zero":false},"axis":null},
  "text":{"field":"label"}
 }
},
{
 "data":{"name":"obs"},
 "transform":[{"filter":"datum.s === 'E3281 Analysis'"}],
 "mark":{"type":"line","strokeWidth":1.3,"interpolate":"linear"},
 "encoding":{
  "x":{"field":"t","type":"temporal","scale":{"type":"utc","domain":[1713312000000,1713571200000]},"axis":{"orient":"top","values":[1713312000000,1713333600000,1713355200000,1713376800000,1713398400000,1713420000000,1713441600000,1713463200000,1713484800000,1713506400000,1713528000000,1713549600000,1713571200000],"tickSize":-5,"labels":false,"title":null}},
  "y":{"field":"v","type":"quantitative","scale":{"domain":[32,44],"nice":false,"zero":false},"axis":{"orient":"right","values":[32,34,36,38,40,42,44],"tickSize":-5,"labels":false,"title":null}},
  "color":{"field":"s","type":"nominal","scale":{"domain":["E3281 Analysis","E3281"],"range":["#ff0000","#0a84ff"]},"legend":{"title":null,"orient":"none","legendX":543.5,"legendY":5,"symbolType":"M-4,0H4","symbolSize":49,"symbolStrokeWidth":1.3,"labelFont":"DejaVu Sans Mono","labelFontSize":10,"labelColor":"black","labelAlign":"right","labelOffset":-25.5,"labelLimit":300,"rowPadding":3,"padding":0}},
  "detail":{"field":"g"}
 }
},
{
 "data":{"name":"obs"},
 "transform":[{"filter":"datum.s === 'E3281'"}],
 "mark":{"type":"line","strokeWidth":1.3,"interpolate":"step-after"},
 "encoding":{
  "x":{"field":"t","type":"temporal","scale":{"type":"utc","domain":[1713312000000,1713571200000]},"axis":{"orient":"bottom","values":[1713312000000,1713333600000,1713355200000,1713376800000,1713398400000,1713420000000,1713441600000,1713463200000,1713484800000,1713506400000,1713528000000,1713549600000,1713571200000],"tickSize":-5,"labelPadding":13,"labelFlush":false,"labelOverlap":false,"labelLineHeight":14,"labelExpr":"[utcFormat(datum.value, '%m/%d'), utcFormat(datum.value, '%H:%M')]","title":null}},
  "y":{"field":"v","type":"quantitative","scale":{"domain":[32,44],"nice":false,"zero":false},"axis":{"orient":"left","values":[32,34,36,38,40,42,44],"tickSize":-5,"labelPadding":12,"title":"degrees F","titlePadding":14}},
  "color":{"field":"s","type":"nominal","scale":{"domain":["E3281 Analysis","E3281"],"range":["#ff0000","#0a84ff"]}}
 }
}
],
"resolve":{"axis":{"x":"independent","y":"independent"}}
}
